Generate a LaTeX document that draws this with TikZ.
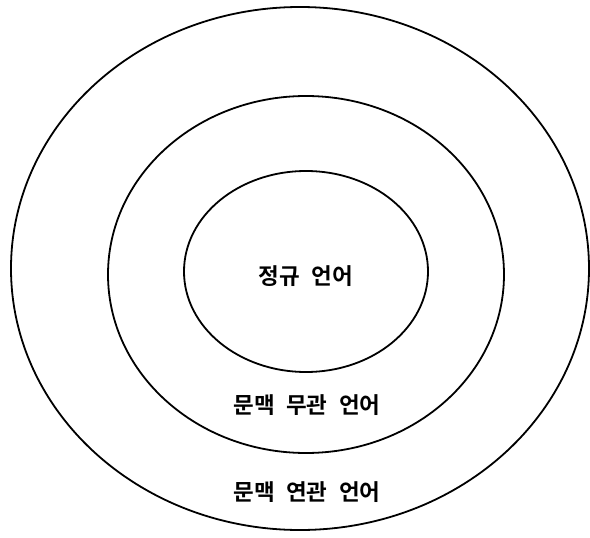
\documentclass[tikz,border=0pt]{standalone}
\usepackage{fontspec}
\newfontfamily\kofont{Noto Sans CJK KR}[BoldFont={Noto Sans CJK KR Bold}]
\usetikzlibrary{shapes.geometric, positioning}

\begin{document}
\begin{tikzpicture}[
  x=1pt, y=-1pt,
  ring/.style={draw, ellipse, line width=1.8pt, inner sep=0pt},
  lbl/.style={font=\kofont\bfseries\fontsize{22.5}{26}\selectfont, inner sep=0pt},
]
\useasboundingbox (0,0) rectangle (590,538);
\node[ring, minimum width=578pt, minimum height=523pt] (csl) at (300,268.5) {};
\node[ring, minimum width=396pt, minimum height=357pt] (cfl) at (306,274.5) {};
\node[ring, minimum width=244pt, minimum height=201pt] (reg) at (306,271.5) {};
\node[lbl] (reglbl) at (306,276) {정규 \;언어};
\node[lbl] (cfllbl) at (307,405) {문맥 \;무관 \;언어};
\node[lbl] (csllbl) at (307,492) {문맥 \;연관 \;언어};
\end{tikzpicture}
\end{document}
